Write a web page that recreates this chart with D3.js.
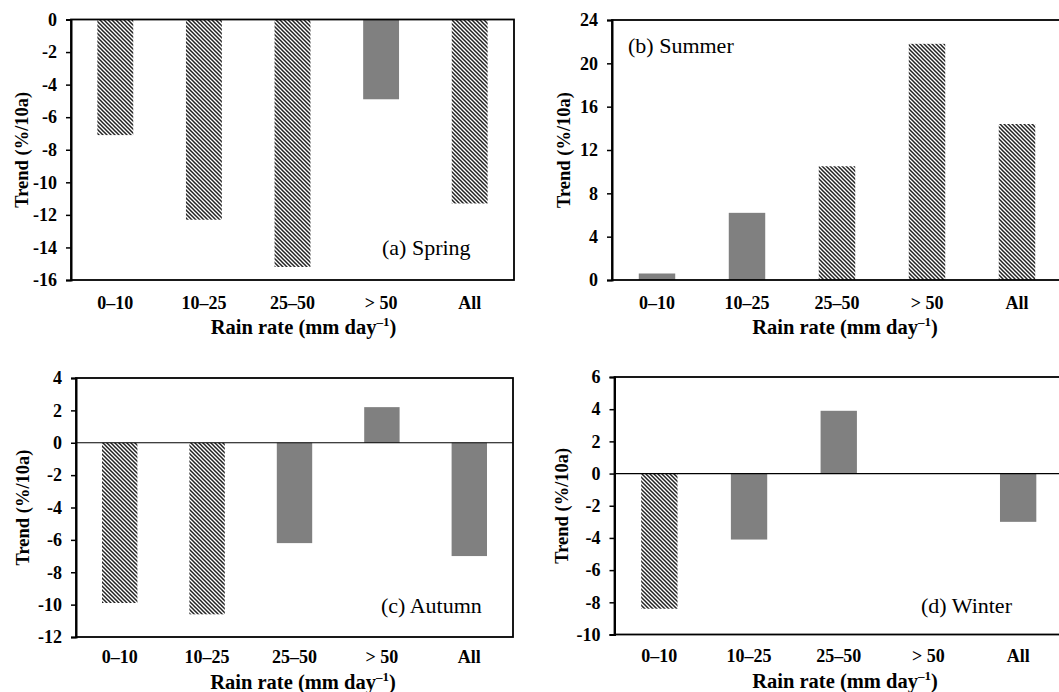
<!DOCTYPE html>
<html>
<head>
<meta charset="utf-8">
<script src="https://cdn.jsdelivr.net/npm/d3@7"></script>
<style>
  html, body { margin: 0; padding: 0; background: #fff; }
  svg { display: block; }
</style>
</head>
<body>
<svg id="chart" width="1059" height="692"></svg>
<script>
// ---------------- DATA ----------------
const categories = ["0–10", "10–25", "25–50", "> 50", "All"];

const springValues = [-7.1, -12.3, -15.2, -4.9, -11.3];
const springHatched = [true, true, true, false, true];
const springTicks = [0, -2, -4, -6, -8, -10, -12, -14, -16];

const summerValues = [0.6, 6.2, 10.5, 21.8, 14.4];
const summerHatched = [false, false, true, true, true];
const summerTicks = [0, 4, 8, 12, 16, 20, 24];

const autumnValues = [-9.9, -10.6, -6.2, 2.2, -7.0];
const autumnHatched = [true, true, false, false, false];
const autumnTicks = [4, 2, 0, -2, -4, -6, -8, -10, -12];

const winterValues = [-8.4, -4.1, 3.9, 0, -3.0];
const winterHatched = [true, false, false, false, false];
const winterTicks = [6, 4, 2, 0, -2, -4, -6, -8, -10];

const panelLabels = ["(a) Spring", "(b) Summer", "(c) Autumn", "(d) Winter"];
const yTitle = "Trend (%/10a)";

// ---------------- LAYOUT ----------------
const panels = [
  { values: springValues, hatched: springHatched, ticks: springTicks, domain: [-16, 0],
    left: 71, right: 514, top: 19.5, bottom: 280, label: panelLabels[0],
    labelX: 382, labelY: 254.5, yTitleX: 22, zeroLine: false,
    xTickY: 309, xTitleY: 334, xTitleX: 303.5 },
  { values: summerValues, hatched: summerHatched, ticks: summerTicks, domain: [0, 24],
    left: 612, right: 1062, top: 20, bottom: 280, label: panelLabels[1],
    labelX: 628, labelY: 53, yTitleX: 564, zeroLine: false,
    xTickY: 308.5, xTitleY: 334, xTitleX: 845 },
  { values: autumnValues, hatched: autumnHatched, ticks: autumnTicks, domain: [-12, 4],
    left: 76, right: 513, top: 378, bottom: 637, label: panelLabels[2],
    labelX: 381, labelY: 613, yTitleX: 23, zeroLine: true,
    xTickY: 662.5, xTitleY: 688.5, xTitleX: 303 },
  { values: winterValues, hatched: winterHatched, ticks: winterTicks, domain: [-10, 6],
    left: 614.5, right: 1063, top: 377, bottom: 634.5, label: panelLabels[3],
    labelX: 921, labelY: 613, yTitleX: 562, zeroLine: true,
    xTickY: 662, xTitleY: 688, xTitleX: 845 }
];

const svg = d3.select("#chart");
const defs = svg.append("defs");
const pat = defs.append("pattern")
  .attr("id", "hatch")
  .attr("patternUnits", "userSpaceOnUse")
  .attr("width", 4).attr("height", 4);
pat.append("rect").attr("width", 4).attr("height", 4).attr("fill", "#fff");
pat.append("path")
  .attr("d", "M-1,-1 L5,5 M-1,3 L1,5 M3,-1 L5,1")
  .attr("stroke", "#222")
  .attr("stroke-width", 1.5);

const serif = "'Liberation Serif', 'Times New Roman', serif";

panels.forEach(p => {
  const g = svg.append("g");
  const x = d3.scaleBand()
    .domain(categories)
    .range([p.left, p.right])
    .paddingInner(0.595)
    .paddingOuter(0.2975);
  const y = d3.scaleLinear().domain(p.domain).range([p.bottom, p.top]);

  // bars
  g.selectAll("rect.bar")
    .data(categories.map((c, i) => ({ c, v: p.values[i], h: p.hatched[i] })))
    .join("rect")
    .attr("class", "bar")
    .attr("x", d => x(d.c))
    .attr("width", x.bandwidth())
    .attr("y", d => Math.min(y(0), y(d.v)))
    .attr("height", d => Math.abs(y(d.v) - y(0)))
    .attr("fill", d => d.h ? "url(#hatch)" : "#808080");

  // zero line
  if (p.zeroLine) {
    g.append("line")
      .attr("x1", p.left).attr("x2", p.right)
      .attr("y1", y(0)).attr("y2", y(0))
      .attr("stroke", "#000").attr("stroke-width", 1.2);
  }

  // frame
  g.append("rect")
    .attr("x", p.left).attr("y", p.top)
    .attr("width", p.right - p.left).attr("height", p.bottom - p.top)
    .attr("fill", "none").attr("stroke", "#000").attr("stroke-width", 1.8);

  // y axis
  const yAxis = d3.axisLeft(y).tickValues(p.ticks).tickSize(5).tickPadding(9)
    .tickFormat(d => d < 0 ? "-" + Math.abs(d) : String(d));
  const ya = g.append("g").attr("transform", `translate(${p.left},0)`).call(yAxis);
  ya.select(".domain").attr("stroke", "#000").attr("stroke-width", 2);
  ya.selectAll(".tick line").attr("stroke", "#000").attr("stroke-width", 1.5);
  ya.selectAll(".tick text")
    .attr("font-family", serif).attr("font-weight", "bold")
    .attr("font-size", 18).attr("fill", "#000");

  // x tick labels
  const xAxis = d3.axisBottom(x).tickSize(0).tickPadding(0);
  const xa = g.append("g").attr("transform", `translate(0,${p.xTickY})`).call(xAxis);
  xa.select(".domain").remove();
  xa.selectAll(".tick text")
    .attr("font-family", serif).attr("font-weight", "bold")
    .attr("font-size", 18).attr("fill", "#000")
    .attr("dy", null).attr("y", 0);

  // x title
  const xt = g.append("text")
    .attr("x", p.xTitleX)
    .attr("y", p.xTitleY)
    .attr("text-anchor", "middle")
    .attr("font-family", serif).attr("font-weight", "bold")
    .attr("font-size", 20.5).attr("fill", "#000");
  xt.append("tspan").text("Rain rate (mm day");
  xt.append("tspan").attr("font-size", 13).attr("dy", -8).text("–1");
  xt.append("tspan").attr("dy", 8).text(")");

  // y title
  g.append("text")
    .attr("transform", `translate(${p.yTitleX},${(p.top + p.bottom) / 2}) rotate(-90)`)
    .attr("text-anchor", "middle")
    .attr("dominant-baseline", "central")
    .attr("font-family", serif).attr("font-weight", "bold")
    .attr("font-size", 18.5).attr("fill", "#000")
    .text(yTitle);

  // panel label
  g.append("text")
    .attr("x", p.labelX).attr("y", p.labelY)
    .attr("font-family", serif)
    .attr("font-size", 22).attr("fill", "#000")
    .text(p.label);
});
</script>
</body>
</html>
